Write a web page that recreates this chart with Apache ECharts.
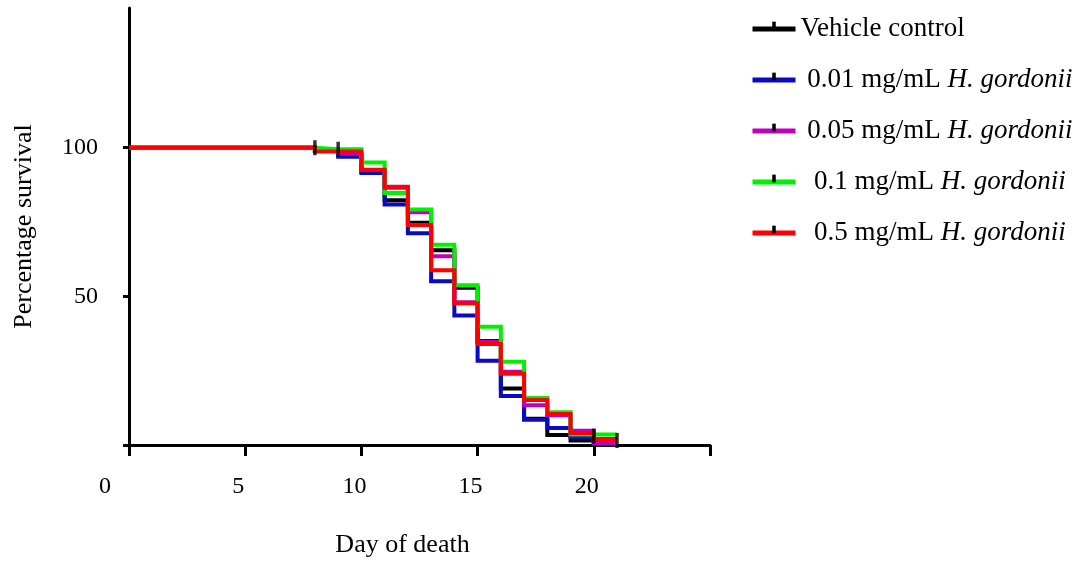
<!DOCTYPE html>
<html>
<head>
<meta charset="utf-8">
<script src="https://cdn.jsdelivr.net/npm/echarts@6/dist/echarts.min.js"></script>
<style>
html,body{margin:0;padding:0;background:#fff;}
#chart{width:1085px;height:563px;}
</style>
</head>
<body>
<div id="chart"></div>
<script>
// ---- data ----
const seriesNames = [
  'Vehicle control',
  '0.01 mg/mL H. gordonii',
  '0.05 mg/mL H. gordonii',
  '0.1 mg/mL H. gordonii',
  '0.5 mg/mL H. gordonii'
];
const days = [0, 8, 9, 10, 11, 12, 13, 14, 15, 16, 17, 18, 19, 20, 21];
const vehicleControl = [100, 99, 97.5, 92, 82.3, 74.8, 65.5, 52.9, 35, 19, 8.8, 3.4, 1.5, 0, null];
const dose001 = [100, 99, 97, 91.5, 80.9, 71.2, 55.1, 43.6, 28.3, 16.5, 8.5, 5.7, 2.6, 0, null];
const dose005 = [100, 99, 98, 92.5, 86.9, 78.3, 63.5, 48, 34.7, 24.6, 13.4, 10, 4.8, 0.7, 0.7];
const dose01  = [100, 99.5, 99.5, 95, 84.8, 79.2, 67.4, 53.7, 39.8, 28, 15.8, 11, 3.5, 3.5, 3.5];
const dose05  = [100, 98.7, 98.7, 92.6, 86.5, 74, 58.8, 47.7, 34, 24, 15.1, 10.4, 4, 2, 2];
const censorDays = [8, 9, 20, 21];
const censorValues = [100, 99.5, 3, 1.5];
const xTicks = [0, 5, 10, 15, 20, 25];
const xLabels = [0, 5, 10, 15, 20];
const yTicks = [0, 50, 100];
const yLabels = [50, 100];

// ---- build chart ----
const allValues = [vehicleControl, dose001, dose005, dose01, dose05];
const lineColors = ['#000000', '#0a0ac0', '#bf00bf', '#00f000', '#ff0000'];
const FONT = 'Liberation Serif';
const tickMark = 'path://M0,0 M10,10 M3.9,0.4 L6.1,0.4 L6.1,5.2 L3.9,5.2 Z';

function pairs(vals) {
  const out = [];
  for (let i = 0; i < days.length; i++) {
    if (vals[i] !== null && vals[i] !== undefined) out.push([days[i], vals[i]]);
  }
  return out;
}

const series = seriesNames.map((name, i) => ({
  name: name,
  type: 'line',
  step: 'end',
  data: pairs(allValues[i]),
  showSymbol: false,
  symbol: tickMark,
  itemStyle: { color: '#000000' },
  lineStyle: { color: lineColors[i], width: 4, join: 'miter' },
  silent: true,
  animation: false,
  z: 2 + i
}));

series.push({
  name: 'censored',
  type: 'scatter',
  data: censorDays.map((d, i) => [d, censorValues[i]]),
  symbol: 'rect',
  symbolSize: [3.5, 15],
  itemStyle: { color: '#000000' },
  silent: true,
  animation: false,
  z: 20
});

const leadSpace = { 'Vehicle control': '', '0.01 mg/mL H. gordonii': ' ', '0.05 mg/mL H. gordonii': ' ', '0.1 mg/mL H. gordonii': '  ', '0.5 mg/mL H. gordonii': '  ' };

const option = {
  backgroundColor: '#ffffff',
  animation: false,
  grid: { left: 129, right: 375, top: 8, bottom: 117, containLabel: false },
  legend: {
    data: seriesNames,
    orient: 'vertical',
    left: 750,
    top: 14,
    padding: 0,
    itemWidth: 43,
    itemHeight: 20,
    itemGap: 21,
    selectedMode: false,
    lineStyle: { width: 5 },
    textStyle: {
      fontFamily: FONT, fontSize: 27, color: '#000', lineHeight: 30,
      rich: {
        n: { fontFamily: FONT, fontSize: 27, color: '#000', lineHeight: 30 },
        i: { fontFamily: FONT, fontSize: 27, color: '#000', fontStyle: 'italic', lineHeight: 30 }
      }
    },
    formatter: function (name) {
      const k = name.indexOf('H. gordonii');
      if (k < 0) return '{n|' + name + '}';
      return '{n|' + leadSpace[name] + name.slice(0, k) + '}{i|H. gordonii}';
    }
  },
  xAxis: {
    type: 'value',
    min: 0,
    max: 25,
    interval: 5,
    name: 'Day of death',
    nameLocation: 'middle',
    nameGap: 87,
    nameTextStyle: { fontFamily: FONT, fontSize: 26, color: '#000', padding: [0, 34, 0, 0] },
    axisLine: { show: true, onZero: false, lineStyle: { color: '#000', width: 3 } },
    axisTick: { show: true, length: 11, lineStyle: { color: '#000', width: 3 }, customValues: xTicks },
    axisLabel: {
      show: true, customValues: xLabels, margin: 30,
      fontFamily: FONT, fontSize: 24, color: '#000', padding: [0, 14, 0, 0],
      formatter: function (v) { return v === 0 ? '{z|0}' : String(v); },
      rich: { z: { fontFamily: FONT, fontSize: 24, color: '#000', padding: [0, 34, 0, 0] } }
    },
    splitLine: { show: false }
  },
  yAxis: {
    type: 'value',
    min: 0,
    max: 147,
    interval: 50,
    name: 'Percentage survival',
    nameLocation: 'middle',
    nameGap: 92,
    nameRotate: 90,
    nameTextStyle: { fontFamily: FONT, fontSize: 26, color: '#000' },
    axisLine: { show: true, onZero: false, lineStyle: { color: '#000', width: 3 } },
    axisTick: { show: true, length: 6, lineStyle: { color: '#000', width: 3 }, customValues: yTicks },
    axisLabel: { show: true, customValues: yLabels, margin: 31, fontFamily: FONT, fontSize: 24, color: '#000' },
    splitLine: { show: false }
  },
  series: series
};

const chart = echarts.init(document.getElementById('chart'), null, { renderer: 'canvas' });
chart.setOption(option);
</script>
</body>
</html>
